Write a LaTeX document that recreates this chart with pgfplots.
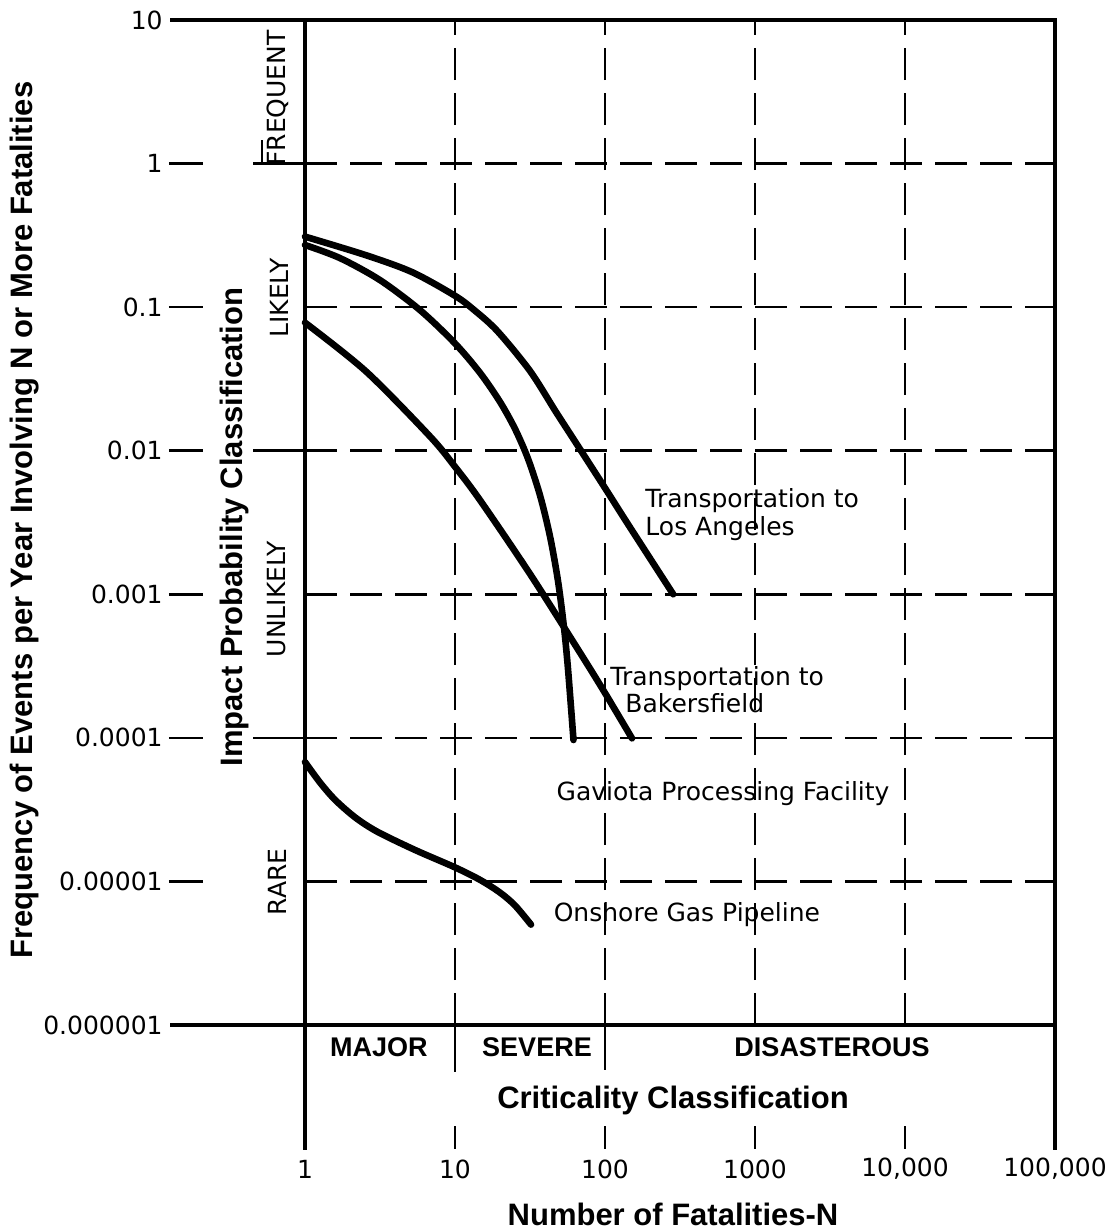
\documentclass[border=0pt]{standalone}
\usepackage{fontspec}
\setmainfont{DejaVu Sans}
\newfontfamily\lib{Liberation Sans}
\usepackage{pgfplots}
\pgfplotsset{compat=1.18}
\newcommand{\lbl}{\fontsize{12.5}{14}\selectfont}
\newcommand{\bigb}{\lib\bfseries\fontsize{15.5}{18}\selectfont}
\newcommand{\catf}{\lib\bfseries\fontsize{13.5}{16}\selectfont}
\begin{document}
\begin{tikzpicture}
\path[use as bounding box] (0,0) rectangle (557.5pt,615.5pt);
\begin{axis}[
  at={(152.5pt,103pt)}, anchor=south west,
  width=375pt, height=502.5pt, scale only axis,
  xmode=log, ymode=log,
  xmin=1, xmax=100000, ymin=1e-6, ymax=10,
  xtick={1,10,100,1000,10000,100000},
  xticklabels={1,10,100,1000,{10,000},{100,000}},
  ytick={1e-6,1e-5,1e-4,1e-3,1e-2,1e-1,1,10},
  yticklabels={0.000001,0.00001,0.0001,0.001,0.01,0.1,1,10},
  xminorticks=false, yminorticks=false,
  major tick length=0pt,
  xmajorgrids, ymajorgrids,
  grid style={black, line width=1.3pt, dash pattern=on 16pt off 6.5pt},
  axis line style={line width=2pt},
  xticklabel style={font=\lbl, anchor=center, inner sep=0pt, yshift=-72pt},
  yticklabel style={font=\lbl, anchor=east, inner sep=0pt, xshift=-71pt},
  clip=false,
  xlabel={Number of Fatalities-N},
  xlabel style={at={(axis description cs:0.4907,-0.18806)}, anchor=center, font=\bigb},
  ylabel={Frequency of Events per Year Involving N or More Fatalities},
  ylabel style={at={(axis description cs:-0.37333,0.5025)}, anchor=center, font=\bigb},
  curve/.style={black, no marks, line width=3.3pt, line cap=round, line join=round, smooth},
]
% Transportation to Los Angeles
\addplot[curve] coordinates {(1,0.31) (2.55,0.23) (5.2,0.175) (10,0.12) (13.5,0.095) (19.2,0.068) (31.6,0.036) (47,0.0187) (64,0.01135) (100,0.0055) (142,0.00309) (285,0.001)};
% Gaviota Processing Facility
\addplot[curve] coordinates {(1,0.2710) (1.711,0.2196) (3.162,0.1543) (5.843,0.0954) (10,0.0559) (14.68,0.03489) (19.95,0.02191) (25.12,0.01421) (30.67,0.008799) (36.87,0.004893) (42.98,0.002534) (48.62,0.001236) (53.30,0.0005861) (56.65,0.0003038) (61.66,0.0000966)};
% Transportation to Bakersfield
\addplot[curve] coordinates {(1,0.0780) (2.551,0.03568) (6.813,0.01258) (10,0.007738) (14.68,0.004529) (31.62,0.001387) (68.13,0.0003925) (100,0.0002053) (151.4,0.0000992)};
% Onshore Gas Pipeline
\addplot[curve] coordinates {(1,6.79e-5) (1.259,4.888e-5) (1.585,3.706e-5) (2.154,2.799e-5) (3.020,2.226e-5) (5.412,1.657e-5) (10,1.253e-5) (14.68,1.026e-5) (19.95,8.367e-6) (25.12,6.804e-6) (32.12,5.004e-6)};

% frame extensions
\draw[line width=2pt] (axis cs:1,10) -- ++(-67.5pt,0pt);
\draw[line width=2pt] (axis cs:1,1e-6) -- ++(-67.5pt,0pt);
\draw[line width=2pt] (axis cs:1,1e-6) -- ++(0pt,-62.5pt);
\draw[line width=2pt] (axis cs:100000,1e-6) -- ++(0pt,-62.5pt);
\draw[line width=1.3pt] (axis cs:10,1e-6) -- ++(0pt,-23.5pt);
\draw[line width=1.3pt] (axis cs:100,1e-6) -- ++(0pt,-22.5pt);
\draw[line width=1.3pt] (axis cs:10,1e-6) ++(0pt,-50.5pt) -- ++(0pt,-11.5pt);
\draw[line width=1.3pt] (axis cs:100,1e-6) ++(0pt,-50.5pt) -- ++(0pt,-11.5pt);
\draw[line width=1.3pt] (axis cs:1000,1e-6) ++(0pt,-50.5pt) -- ++(0pt,-11.5pt);
\draw[line width=1.3pt] (axis cs:10000,1e-6) ++(0pt,-50.5pt) -- ++(0pt,-11.5pt);
% y tick dashes
\draw[line width=1.3pt] (axis cs:1,1) ++(-68pt,0pt) -- ++(17pt,0pt);
\draw[line width=1.3pt] (axis cs:1,0.1) ++(-68pt,0pt) -- ++(17pt,0pt);
\draw[line width=1.3pt] (axis cs:1,0.01) ++(-68pt,0pt) -- ++(17pt,0pt);
\draw[line width=1.3pt] (axis cs:1,0.001) ++(-68pt,0pt) -- ++(17pt,0pt);
\draw[line width=1.3pt] (axis cs:1,0.0001) ++(-68pt,0pt) -- ++(17pt,0pt);
\draw[line width=1.3pt] (axis cs:1,0.00001) ++(-68pt,0pt) -- ++(17pt,0pt);
% classification boundaries
\draw[line width=1.3pt] (axis cs:1,1) -- ++(-26pt,0pt);
\draw[line width=1.3pt] (axis cs:1,0.01) -- ++(-26pt,0pt);
\draw[line width=1.3pt] (axis cs:1,0.0001) -- ++(-26pt,0pt);
\draw[line width=1.1pt] (axis cs:1,1) ++(-21.5pt,0pt) -- ++(0pt,12pt);

% classification labels
\node[rotate=90, font=\lbl] at (axis description cs:-0.03600,0.9224) {FREQUENT};
\node[rotate=90, font=\lbl] at (axis description cs:-0.03467,0.7234) {LIKELY};
\node[rotate=90, font=\lbl] at (axis description cs:-0.03733,0.4239) {UNLIKELY};
\node[rotate=90, font=\lbl] at (axis description cs:-0.03733,0.1423) {RARE};
\node[rotate=90, font=\bigb] at (axis description cs:-0.09467,0.4955) {Impact Probability Classification};

\node[font=\catf] at (axis description cs:0.09867,-0.02189) {MAJOR};
\node[font=\catf] at (axis description cs:0.30933,-0.02189) {SEVERE};
\node[font=\catf] at (axis description cs:0.70267,-0.02189) {DISASTEROUS};
\node[font=\bigb] at (axis description cs:0.49067,-0.07463) {Criticality Classification};

% curve labels
\node[font=\lbl, anchor=west, align=left, inner sep=0pt] at (axis cs:185,3.57e-3) {Transportation to\\Los Angeles};
\node[font=\lbl, anchor=west, inner sep=0pt] at (axis cs:108,2.58e-4) {Transportation to};
\node[font=\lbl, anchor=west, inner sep=0pt] at (axis cs:136,1.75e-4) {Bakersfield};
\node[font=\lbl, anchor=west, inner sep=0pt] at (axis cs:47.3,4.09e-5) {Gaviota Processing Facility};
\node[font=\lbl, anchor=west, inner sep=0pt] at (axis cs:45.3,5.86e-6) {Onshore Gas Pipeline};
\end{axis}
\end{tikzpicture}
\end{document}
